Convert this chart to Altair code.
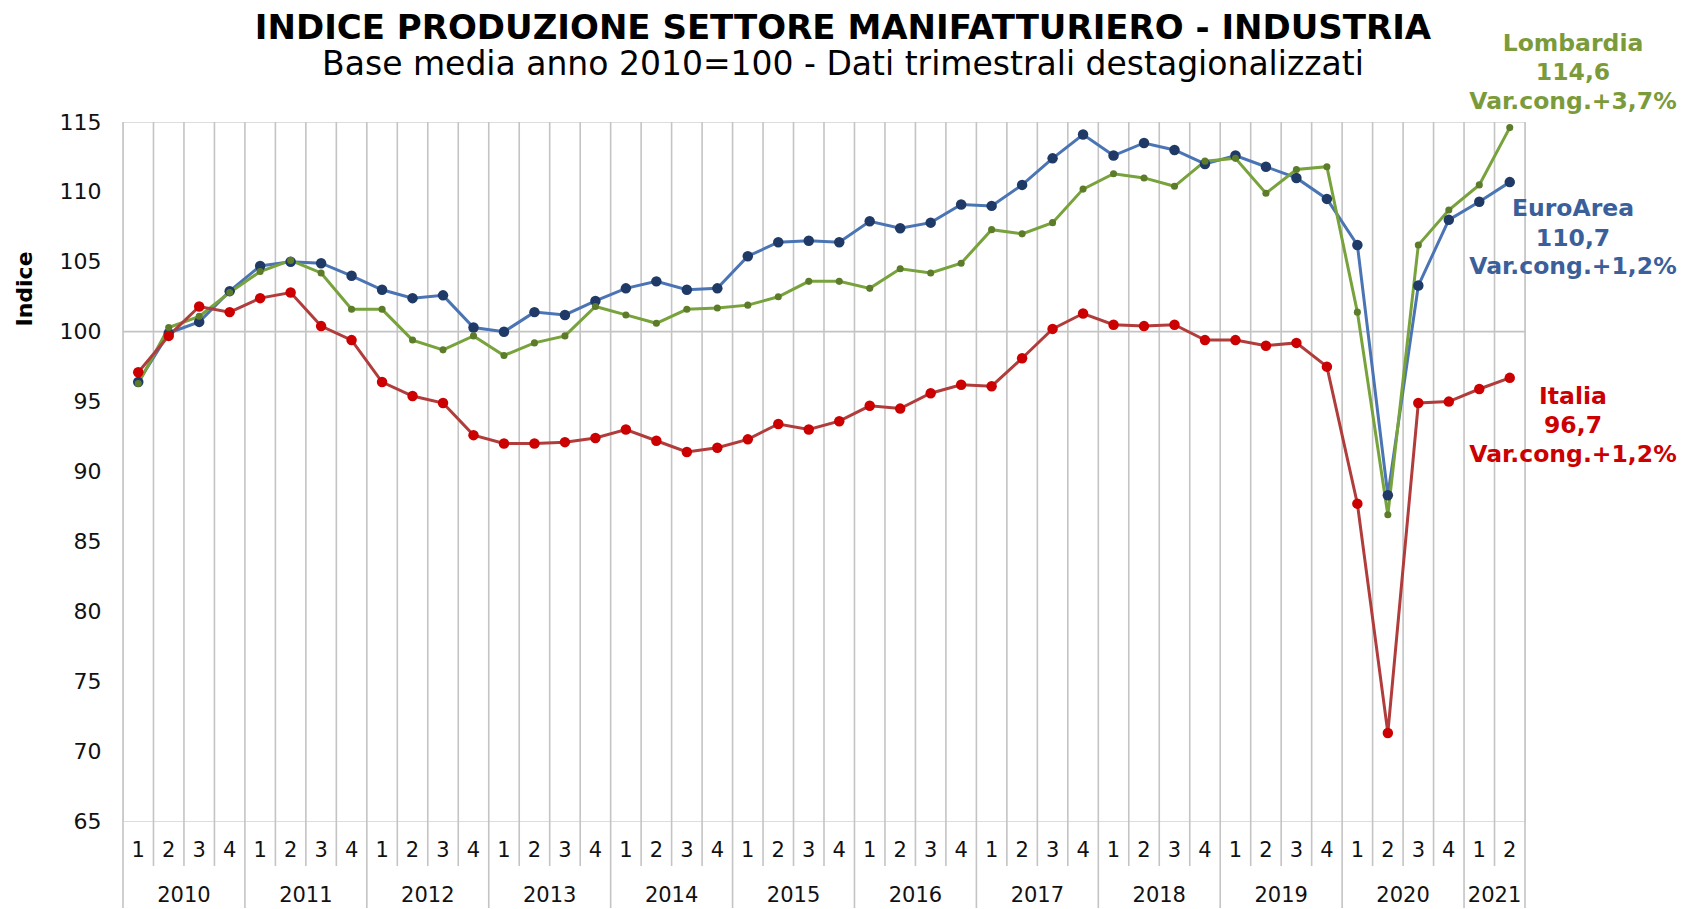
import altair as alt
import pandas as pd

# ---------------- data ----------------
years = ["2010", "2011", "2012", "2013", "2014", "2015", "2016", "2017", "2018", "2019", "2020", "2021"]
quarters_per_year = [4, 4, 4, 4, 4, 4, 4, 4, 4, 4, 4, 2]
quarter_labels = ["1", "2", "3", "4"] * 11 + ["1", "2"]

italia = [97.1, 99.7, 101.8, 101.4, 102.4, 102.8, 100.4, 99.4, 96.4, 95.4,
          94.9, 92.6, 92.0, 92.0, 92.1, 92.4, 93.0, 92.2, 91.4, 91.7,
          92.3, 93.4, 93.0, 93.6, 94.7, 94.5, 95.6, 96.2, 96.1, 98.1,
          100.2, 101.3, 100.5, 100.4, 100.5, 99.4, 99.4, 99.0, 99.2, 97.5,
          87.7, 71.3, 94.9, 95.0, 95.9, 96.7]
euroarea = [96.4, 99.9, 100.7, 102.9, 104.7, 105.0, 104.9, 104.0, 103.0, 102.4,
            102.6, 100.3, 100.0, 101.4, 101.2, 102.2, 103.1, 103.6, 103.0, 103.1,
            105.4, 106.4, 106.5, 106.4, 107.9, 107.4, 107.8, 109.1, 109.0, 110.5,
            112.4, 114.1, 112.6, 113.5, 113.0, 112.0, 112.6, 111.8, 111.0, 109.5,
            106.2, 88.3, 103.3, 108.0, 109.3, 110.7]
lombardia = [96.3, 100.3, 101.1, 102.8, 104.3, 105.1, 104.2, 101.6, 101.6, 99.4,
             98.7, 99.7, 98.3, 99.2, 99.7, 101.8, 101.2, 100.6, 101.6, 101.7,
             101.9, 102.5, 103.6, 103.6, 103.1, 104.5, 104.2, 104.9, 107.3, 107.0,
             107.8, 110.2, 111.3, 111.0, 110.4, 112.2, 112.4, 109.9, 111.6, 111.8,
             101.4, 86.9, 106.2, 108.7, 110.5, 114.6]

y_ticks = [65, 70, 75, 80, 85, 90, 95, 100, 105, 110, 115]
ref_line = [100]

title_text = "INDICE  PRODUZIONE SETTORE MANIFATTURIERO - INDUSTRIA"
subtitle_text = "Base media anno 2010=100 - Dati trimestrali destagionalizzati"
y_title = "Indice"

ann_lines = ["Lombardia", "114,6", "Var.cong.+3,7%",
             "EuroArea", "110,7", "Var.cong.+1,2%",
             "Italia", "96,7", "Var.cong.+1,2%"]
ann_series = ["Lombardia"] * 3 + ["EuroArea"] * 3 + ["Italia"] * 3

# ---------------- styling ----------------
W, H = 1402, 699
PAD_L, PAD_T, PAD_R, PAD_B = 115, 114, 160, 87
FONT = "DejaVu Sans"
GRID = "#c4c4c4"

line_col = {"EuroArea": "#4a74b4", "Lombardia": "#78a23c", "Italia": "#b03c3c"}
mark_col = {"EuroArea": "#1f3a66", "Lombardia": "#5c7c2a", "Italia": "#cc0000"}
mark_size = {"EuroArea": 110, "Lombardia": 50, "Italia": 110}
text_col = {"EuroArea": "#3b5f9a", "Lombardia": "#7b9b3b", "Italia": "#cc0000"}
ann_y = [-78, -49, -20, 87, 117, 145, 275, 304, 333]

n = len(quarter_labels)
xscale = alt.Scale(domain=[0, n], nice=False, zero=False)
yscale = alt.Scale(domain=[65, 115], nice=False, zero=False)
y_axis = alt.Axis(values=y_ticks, grid=False, ticks=False, domain=False, title=None,
                  labelFont=FONT, labelFontSize=22, labelColor="#111111", labelPadding=22)

# ---------------- tables ----------------
series = {"EuroArea": euroarea, "Lombardia": lombardia, "Italia": italia}
rows = []
for name, vals in series.items():
    for i, v in enumerate(vals):
        rows.append({"x": i + 0.5, "value": v, "series": name})
df = pd.DataFrame(rows)

year_bounds = [0]
for q in quarters_per_year:
    year_bounds.append(year_bounds[-1] + q)
grid_q = pd.DataFrame({"b": [b for b in range(n + 1) if b not in year_bounds]})
grid_y = pd.DataFrame({"b": year_bounds})

qdf = pd.DataFrame({"x": [i + 0.5 for i in range(n)], "q": quarter_labels})
ydf = pd.DataFrame({
    "x": [(year_bounds[k] + year_bounds[k + 1]) / 2 for k in range(len(years))],
    "year": years,
})

# ---------------- layers ----------------
grid_q_layer = alt.Chart(grid_q).mark_rule(color=GRID, strokeWidth=1.6).encode(
    x=alt.X("b:Q", scale=xscale, axis=None), y=alt.value(0), y2=alt.value(H + 45))
grid_y_layer = alt.Chart(grid_y).mark_rule(color=GRID, strokeWidth=1.6).encode(
    x=alt.X("b:Q", scale=xscale, axis=None), y=alt.value(0), y2=alt.value(H + PAD_B))
hline = alt.Chart(pd.DataFrame({"value": ref_line})).mark_rule(color=GRID, strokeWidth=1.8).encode(
    y=alt.Y("value:Q", scale=yscale, axis=y_axis),
    x=alt.value(0), x2=alt.value(W))

line_layers = []
point_layers = []
for name in ["EuroArea", "Lombardia", "Italia"]:
    sub = alt.Chart(df).transform_filter(alt.datum.series == name)
    line_layers.append(sub.mark_line(color=line_col[name], strokeWidth=3).encode(
        x=alt.X("x:Q", scale=xscale, axis=None),
        y=alt.Y("value:Q", scale=yscale, axis=y_axis)))
    point_layers.append(sub.mark_point(filled=True, opacity=1, color=mark_col[name],
                                       size=mark_size[name], shape="circle").encode(
        x=alt.X("x:Q", scale=xscale, axis=None),
        y=alt.Y("value:Q", scale=yscale, axis=y_axis)))

q_text = alt.Chart(qdf).mark_text(font=FONT, fontSize=21, color="#111111", baseline="middle").encode(
    x=alt.X("x:Q", scale=xscale, axis=None), y=alt.value(H + 30), text="q:N")
y_text = alt.Chart(ydf).mark_text(font=FONT, fontSize=21, color="#111111", baseline="middle").encode(
    x=alt.X("x:Q", scale=xscale, axis=None), y=alt.value(H + 75), text="year:N")

title_layer = alt.Chart(pd.DataFrame({"t": [title_text]})).mark_text(
    font=FONT, fontSize=34, fontWeight="bold", color="#000000", baseline="middle", align="center").encode(
    text="t:N", x=alt.value(720), y=alt.value(-93))
subtitle_layer = alt.Chart(pd.DataFrame({"t": [subtitle_text]})).mark_text(
    font=FONT, fontSize=33, color="#000000", baseline="middle", align="center").encode(
    text="t:N", x=alt.value(720), y=alt.value(-57))
ytitle_layer = alt.Chart(pd.DataFrame({"t": [y_title]})).mark_text(
    font=FONT, fontSize=22, fontWeight="bold", color="#000000", baseline="middle", align="center",
    angle=270).encode(text="t:N", x=alt.value(-98), y=alt.value(167))

ann_layers = []
for txt, s, yy in zip(ann_lines, ann_series, ann_y):
    ann_layers.append(alt.Chart(pd.DataFrame({"t": [txt]})).mark_text(
        font=FONT, fontSize=23.5, fontWeight="bold", baseline="middle", align="center",
        color=text_col[s]).encode(text="t:N", x=alt.value(1450), y=alt.value(yy)))

chart = alt.layer(
    grid_q_layer, grid_y_layer, hline, *line_layers, *point_layers,
    q_text, y_text, title_layer, subtitle_layer, ytitle_layer, *ann_layers
).properties(
    width=W, height=H,
    autosize=alt.AutoSizeParams(type="none"),
    padding={"left": PAD_L, "top": PAD_T, "right": PAD_R, "bottom": PAD_B},
).configure_view(stroke=None).configure(background="white")

chart.save("out.html", embed_options={"renderer": "svg", "actions": False})
